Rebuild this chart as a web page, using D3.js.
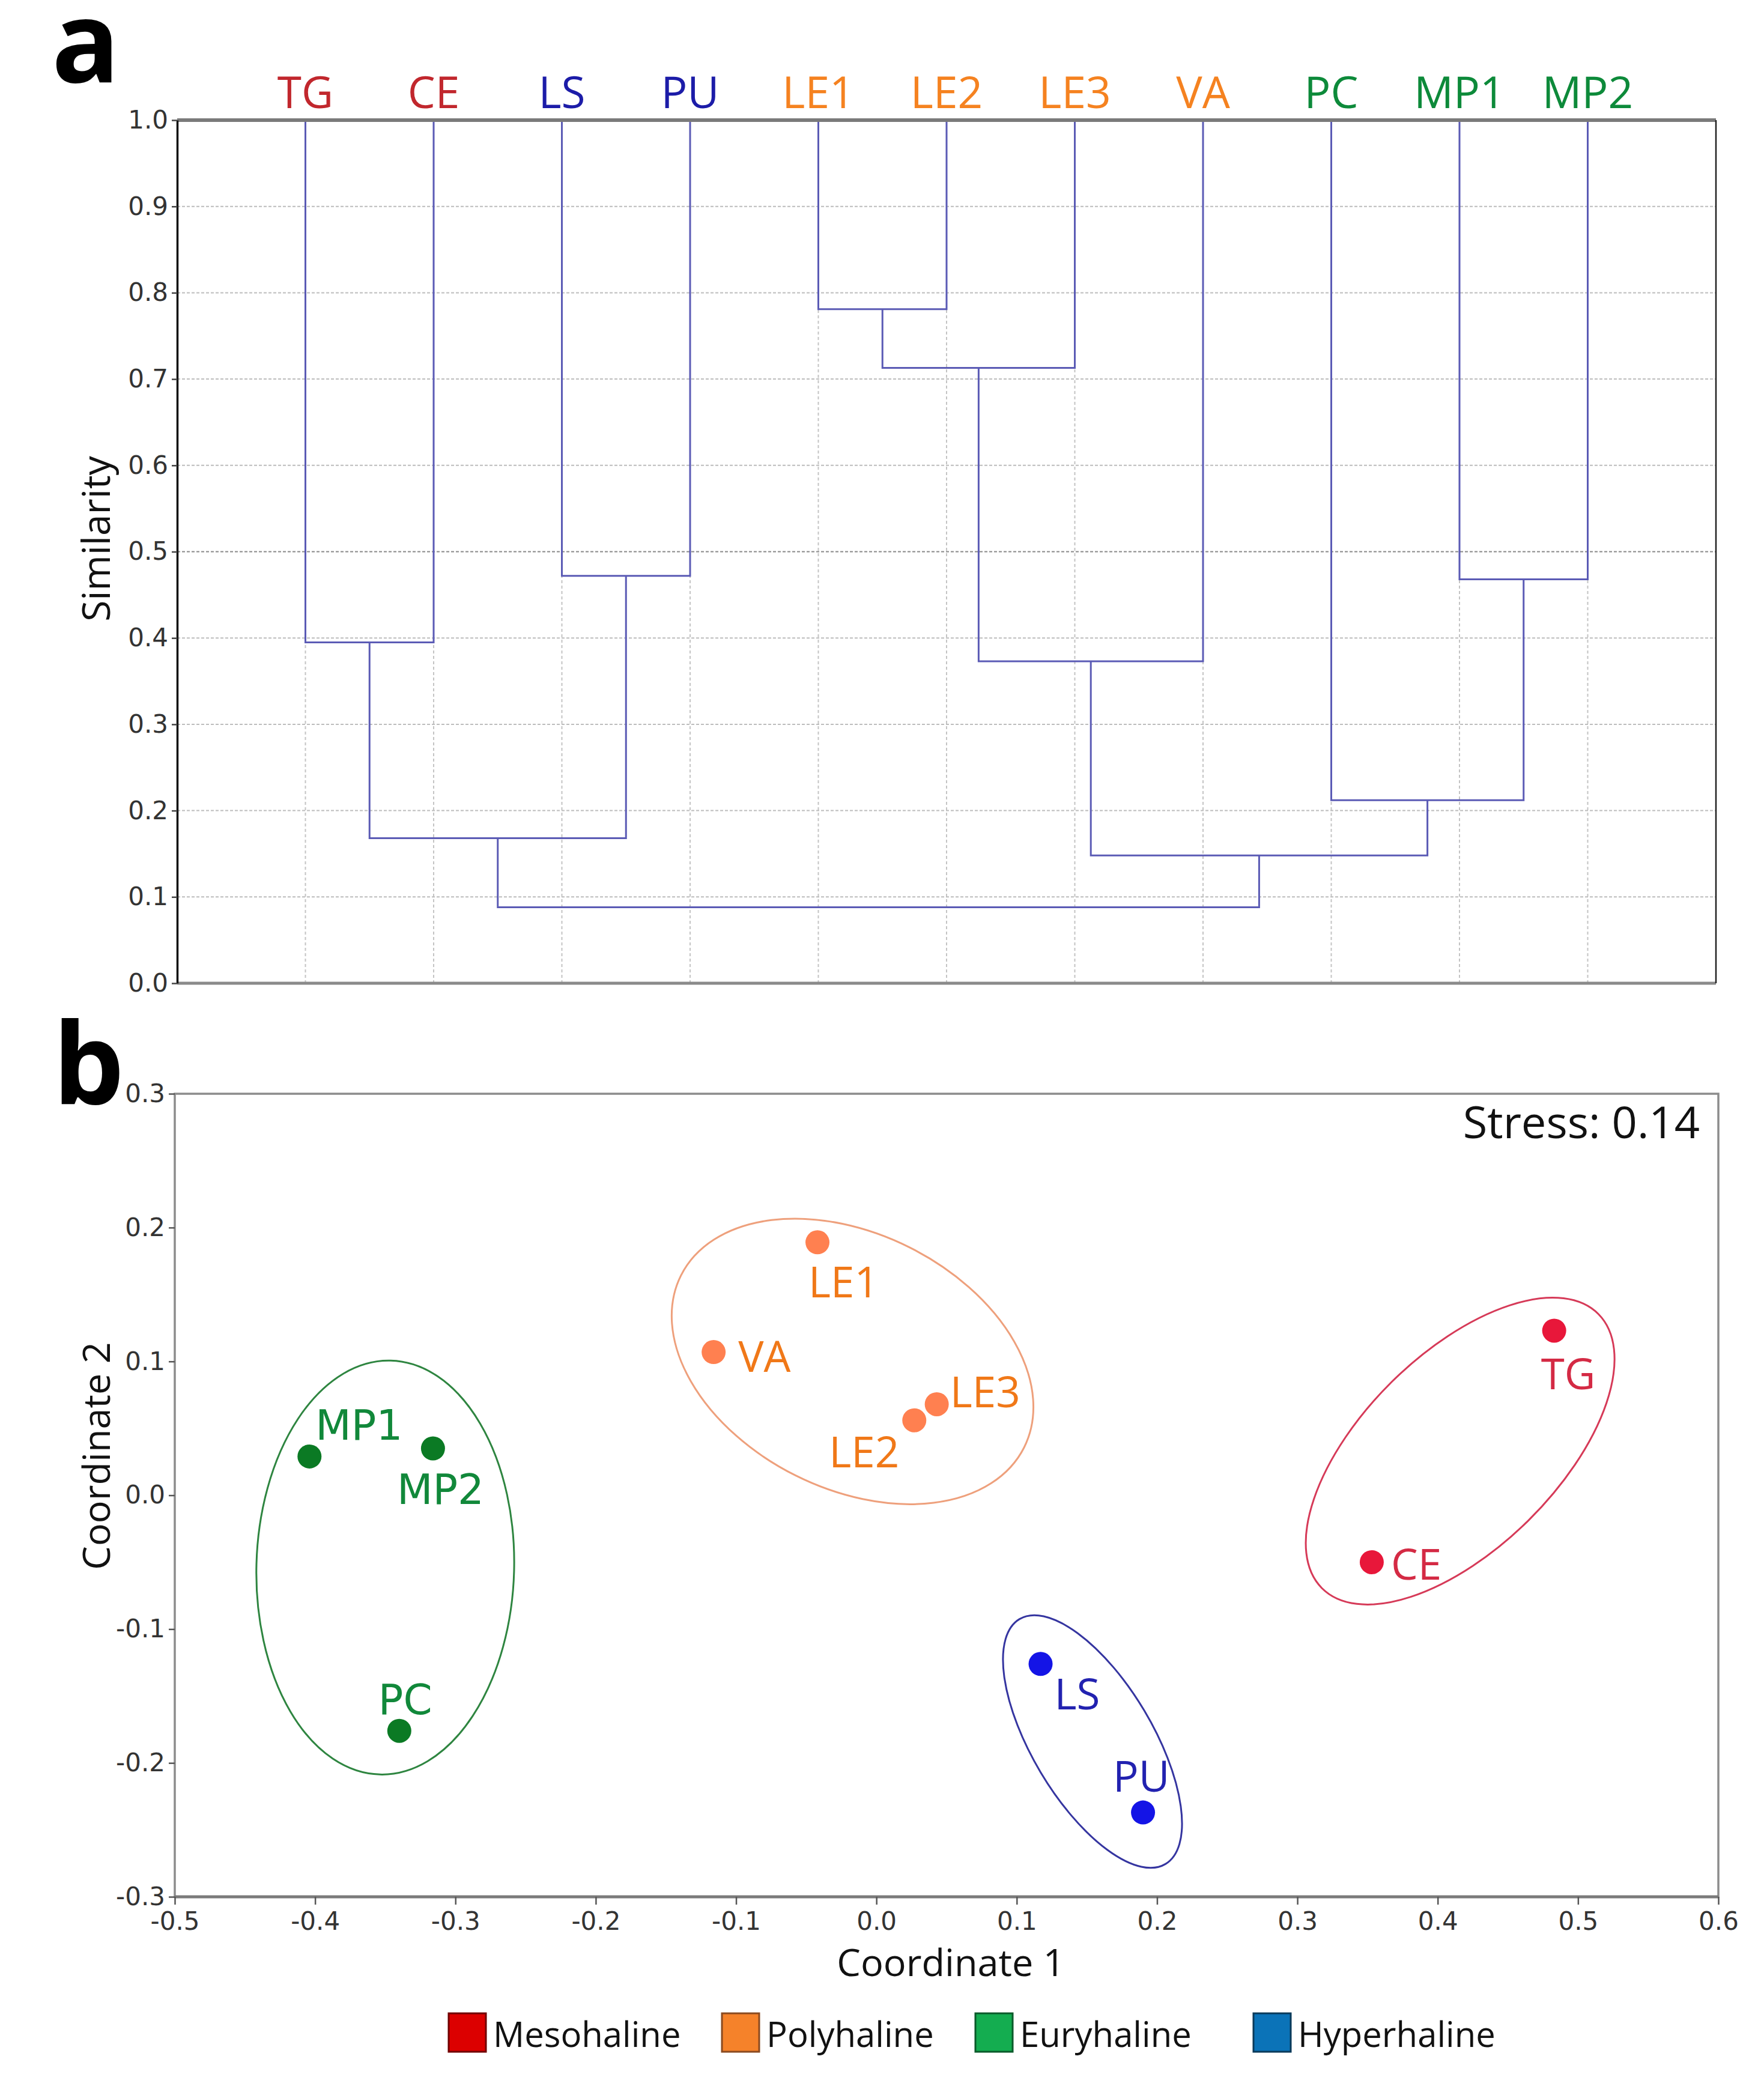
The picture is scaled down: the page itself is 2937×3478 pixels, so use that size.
<!DOCTYPE html>
<html>
<head>
<meta charset="utf-8">
<script src="https://cdn.jsdelivr.net/npm/d3@7"></script>
<style>
body { margin: 0; background: #fff; }
svg { display: block; }
</style>
</head>
<body>
<svg id="fig"></svg>
<script>
var W = 2937, H = 3478;

// ---- (a) cluster dendrogram
var leaves = ["TG", "CE", "LS", "PU", "LE1", "LE2", "LE3", "VA", "PC", "MP1", "MP2"];
var leafRegime = ["Mesohaline", "Mesohaline", "Hyperhaline", "Hyperhaline", "Polyhaline", "Polyhaline",
                  "Polyhaline", "Polyhaline", "Euryhaline", "Euryhaline", "Euryhaline"];
// [left, right, similarity]; merged clusters get ids m0, m1, ...
var merges = [
    ["TG", "CE", 0.395],
    ["LS", "PU", 0.472],
    ["LE1", "LE2", 0.781],
    ["m2", "LE3", 0.713],
    ["m3", "VA", 0.373],
    ["MP1", "MP2", 0.468],
    ["PC", "m5", 0.212],
    ["m0", "m1", 0.168],
    ["m4", "m6", 0.148],
    ["m7", "m8", 0.088]
];
var simTicks = [0, 0.1, 0.2, 0.3, 0.4, 0.5, 0.6, 0.7, 0.8, 0.9, 1.0];

// ---- (b) nMDS
var sites = ["TG", "CE", "LS", "PU", "LE1", "LE2", "LE3", "VA", "PC", "MP1", "MP2"];
var coord1 = [0.483, 0.353, 0.117, 0.190, -0.042, 0.027, 0.043, -0.116, -0.340, -0.404, -0.316];
var coord2 = [0.123, -0.050, -0.126, -0.237, 0.189, 0.056, 0.068, 0.107, -0.176, 0.029, 0.035];
var siteRegime = leafRegime;
var coord1Ticks = [-0.5, -0.4, -0.3, -0.2, -0.1, 0, 0.1, 0.2, 0.3, 0.4, 0.5, 0.6];
var coord2Ticks = [-0.3, -0.2, -0.1, 0, 0.1, 0.2, 0.3];
var stress = 0.14;

// group ellipses: centre, semi-axes (coordinate units), angle (deg)
var ellRegime = ["Mesohaline", "Polyhaline", "Euryhaline", "Hyperhaline"];
var ellCx = [0.416, -0.017, -0.350, 0.154];
var ellCy = [0.033, 0.100, -0.054, -0.184];
var ellA = [0.142, 0.140, 0.151, 0.104];
var ellB = [0.071, 0.093, 0.094, 0.044];
var ellAngle = [44.7, -26.6, 88.5, -59.2];

var regimes = ["Mesohaline", "Polyhaline", "Euryhaline", "Hyperhaline"];

// colours
var dendroLabelCol = {Mesohaline: "#c1272d", Polyhaline: "#f58220", Euryhaline: "#0d8a3a", Hyperhaline: "#1c1ca8"};
var pointCol = {Mesohaline: "#e8173a", Polyhaline: "#ff8050", Euryhaline: "#0b7a24", Hyperhaline: "#1414e6"};
var siteLabelCol = {Mesohaline: "#d42a44", Polyhaline: "#f07818", Euryhaline: "#11883a", Hyperhaline: "#2222b0"};
var ellCol = {Mesohaline: "#d63a58", Polyhaline: "#eea07c", Euryhaline: "#2e8540", Hyperhaline: "#3535a0"};
var legendFill = {Mesohaline: "#dc0000", Polyhaline: "#f5822a", Euryhaline: "#14ad50", Hyperhaline: "#0b73b8"};
var legendEdge = {Mesohaline: "#700000", Polyhaline: "#8a4a20", Euryhaline: "#0a5a2a", Hyperhaline: "#0a3a5a"};

// label placement next to points (px): [dx, dy to baseline]
var labelOff = {
    TG: [-22, 98], CE: [32, 29], LS: [23, 76], PU: [-50, -35],
    LE1: [-15, 92], LE2: [-142, 78], LE3: [22, 5], VA: [41, 33],
    PC: [-35, -28], MP1: [10, -28], MP2: [-60, 92]
};

var svg = d3.select("#fig").attr("width", W).attr("height", H);
svg.append("rect").attr("width", W).attr("height", H).attr("fill", "#fff");

var tickFont = "'DejaVu Sans', sans-serif";
var textFont = "'Open Sans', sans-serif";

function fmt(d) {
    if (Math.abs(d) < 1e-9) return "0.0";
    return d.toFixed(1);
}

// =========================== panel a
var aL = 295, aR = 2857, aT = 200, aB = 1637;
var xA = d3.scaleLinear().domain([0, leaves.length + 1]).range([aL, aR]);
var yA = d3.scaleLinear().domain([0, 1]).range([aB, aT]);

var gA = svg.append("g");

// vertical dashed lines at leaves
gA.selectAll(".vgrid").data(leaves).enter().append("line")
    .attr("x1", function(d, i) { return xA(i + 1); })
    .attr("x2", function(d, i) { return xA(i + 1); })
    .attr("y1", yA(0)).attr("y2", yA(1))
    .attr("stroke", "#c4c4c4").attr("stroke-width", 2)
    .attr("stroke-dasharray", "5,4");

// horizontal dashed grid
gA.selectAll(".hgrid").data(simTicks.filter(function(d) { return d > 0 && d < 1; }))
    .enter().append("line")
    .attr("x1", aL).attr("x2", aR)
    .attr("y1", function(d) { return yA(d); })
    .attr("y2", function(d) { return yA(d); })
    .attr("stroke", function(d) { return Math.abs(d - 0.5) < 1e-9 ? "#8a8a8a" : "#bdbdbd"; })
    .attr("stroke-width", 2)
    .attr("stroke-dasharray", "5,3");

// dendrogram
var nodeX = {}, nodeH = {};
leaves.forEach(function(n, i) { nodeX[n] = i + 1; nodeH[n] = 1; });
merges.forEach(function(m, i) {
    var id = "m" + i;
    nodeX[id] = (nodeX[m[0]] + nodeX[m[1]]) / 2;
    nodeH[id] = m[2];
});
gA.selectAll(".link").data(merges).enter().append("path")
    .attr("fill", "none")
    .attr("stroke", "#5b5bb5")
    .attr("stroke-width", 3)
    .attr("d", function(m) {
        return "M" + xA(nodeX[m[0]]) + "," + yA(nodeH[m[0]]) +
               "V" + yA(m[2]) + "H" + xA(nodeX[m[1]]) + "V" + yA(nodeH[m[1]]);
    });

// frame
gA.append("line").attr("x1", aL).attr("x2", aR).attr("y1", aT).attr("y2", aT)
    .attr("stroke", "#7a7a7a").attr("stroke-width", 6);
gA.append("line").attr("x1", aL).attr("x2", aR).attr("y1", aB).attr("y2", aB)
    .attr("stroke", "#8a8a8a").attr("stroke-width", 5);
gA.append("line").attr("x1", aR).attr("x2", aR).attr("y1", aT).attr("y2", aB)
    .attr("stroke", "#222").attr("stroke-width", 2.5);

// y axis
var axA = gA.append("g").attr("transform", "translate(" + aL + ",0)")
    .call(d3.axisLeft(yA).tickValues(simTicks).tickFormat(fmt).tickSize(9).tickPadding(6).tickSizeOuter(0));
axA.select(".domain").attr("stroke", "#111").attr("stroke-width", 3.5);
axA.selectAll(".tick line").attr("stroke", "#444").attr("stroke-width", 2.5);
axA.selectAll(".tick text").attr("font-family", tickFont).attr("font-size", 42).attr("fill", "#333");

// leaf labels
gA.selectAll(".leaf").data(leaves).enter().append("text")
    .attr("x", function(d, i) { return xA(i + 1); })
    .attr("y", 180)
    .attr("text-anchor", "middle")
    .attr("font-family", textFont).attr("font-size", 73)
    .attr("fill", function(d, i) { return dendroLabelCol[leafRegime[i]]; })
    .text(function(d) { return d; });

gA.append("text")
    .attr("transform", "translate(183,897) rotate(-90)")
    .attr("text-anchor", "middle")
    .attr("font-family", textFont).attr("font-size", 64).attr("fill", "#111")
    .text("Similarity");

svg.append("text").attr("x", 86).attr("y", 137)
    .attr("font-family", textFont).attr("font-weight", "bold").attr("font-size", 188)
    .text("a");

// =========================== panel b
var bL = 291, bR = 2861, bT = 1821, bB = 3158;
var xB = d3.scaleLinear().domain([-0.5, 0.6]).range([bL, bR]);
var yB = d3.scaleLinear().domain([-0.3, 0.3]).range([bB, bT]);
var k = ((xB(1) - xB(0)) + (yB(0) - yB(1))) / 2;

var gB = svg.append("g");

// ellipses
gB.selectAll(".ell").data(ellRegime).enter().append("ellipse")
    .attr("cx", function(d, i) { return xB(ellCx[i]); })
    .attr("cy", function(d, i) { return yB(ellCy[i]); })
    .attr("rx", function(d, i) { return ellA[i] * k; })
    .attr("ry", function(d, i) { return ellB[i] * k; })
    .attr("transform", function(d, i) {
        return "rotate(" + (-ellAngle[i]) + "," + xB(ellCx[i]) + "," + yB(ellCy[i]) + ")";
    })
    .attr("fill", "none")
    .attr("stroke", function(d) { return ellCol[d]; })
    .attr("stroke-width", 3);

// points
gB.selectAll(".pt").data(sites).enter().append("circle")
    .attr("cx", function(d, i) { return xB(coord1[i]); })
    .attr("cy", function(d, i) { return yB(coord2[i]); })
    .attr("r", 20)
    .attr("fill", function(d, i) { return pointCol[siteRegime[i]]; });

gB.selectAll(".ptlab").data(sites).enter().append("text")
    .attr("x", function(d, i) { return xB(coord1[i]) + labelOff[d][0]; })
    .attr("y", function(d, i) { return yB(coord2[i]) + labelOff[d][1]; })
    .attr("font-family", function(d, i) { return siteRegime[i] == "Euryhaline" ? tickFont : textFont; })
    .attr("font-size", function(d, i) { return siteRegime[i] == "Euryhaline" ? 69 : 71; })
    .attr("fill", function(d, i) { return siteLabelCol[siteRegime[i]]; })
    .text(function(d) { return d; });

// frame
gB.append("rect").attr("x", bL).attr("y", bT).attr("width", bR - bL).attr("height", bB - bT)
    .attr("fill", "none").attr("stroke", "#8c8c8c").attr("stroke-width", 3.5);
gB.append("line").attr("x1", bL).attr("x2", bR).attr("y1", bB).attr("y2", bB)
    .attr("stroke", "#7a7a7a").attr("stroke-width", 5);

var axBx = gB.append("g").attr("transform", "translate(0," + bB + ")")
    .call(d3.axisBottom(xB).tickValues(coord1Ticks).tickFormat(fmt).tickSize(13).tickPadding(12).tickSizeOuter(0));
var axBy = gB.append("g").attr("transform", "translate(" + bL + ",0)")
    .call(d3.axisLeft(yB).tickValues(coord2Ticks).tickFormat(fmt).tickSize(10).tickPadding(6).tickSizeOuter(0));
[axBx, axBy].forEach(function(ax) {
    ax.select(".domain").remove();
    ax.selectAll(".tick line").attr("stroke", "#555").attr("stroke-width", 2.5);
    ax.selectAll(".tick text").attr("font-family", tickFont).attr("font-size", 42).attr("fill", "#333");
});

gB.append("text").attr("x", 2830).attr("y", 1895).attr("text-anchor", "end")
    .attr("font-family", textFont).attr("font-size", 74).attr("fill", "#111")
    .text("Stress: " + stress.toFixed(2));

gB.append("text").attr("x", 1583).attr("y", 3290).attr("text-anchor", "middle")
    .attr("font-family", textFont).attr("font-size", 63).attr("fill", "#111")
    .text("Coordinate 1");
gB.append("text").attr("transform", "translate(183,2424) rotate(-90)")
    .attr("text-anchor", "middle")
    .attr("font-family", textFont).attr("font-size", 63).attr("fill", "#111")
    .text("Coordinate 2");

svg.append("text").attr("x", 88).attr("y", 1838)
    .attr("font-family", textFont).attr("font-weight", "bold").attr("font-size", 188)
    .text("b");

// legend
var legendX = [745, 1200, 1622, 2085];
var lg = svg.append("g").selectAll("g").data(regimes).enter().append("g")
    .attr("transform", function(d, i) { return "translate(" + legendX[i] + ",3350)"; });
lg.append("rect").attr("x", 2).attr("y", 2).attr("width", 62).attr("height", 64)
    .attr("fill", function(d) { return legendFill[d]; })
    .attr("stroke", function(d) { return legendEdge[d]; }).attr("stroke-width", 3);
lg.append("text").attr("x", 76).attr("y", 58)
    .attr("font-family", textFont).attr("font-size", 58).attr("fill", "#111")
    .text(function(d) { return d; });
</script>
</body>
</html>
